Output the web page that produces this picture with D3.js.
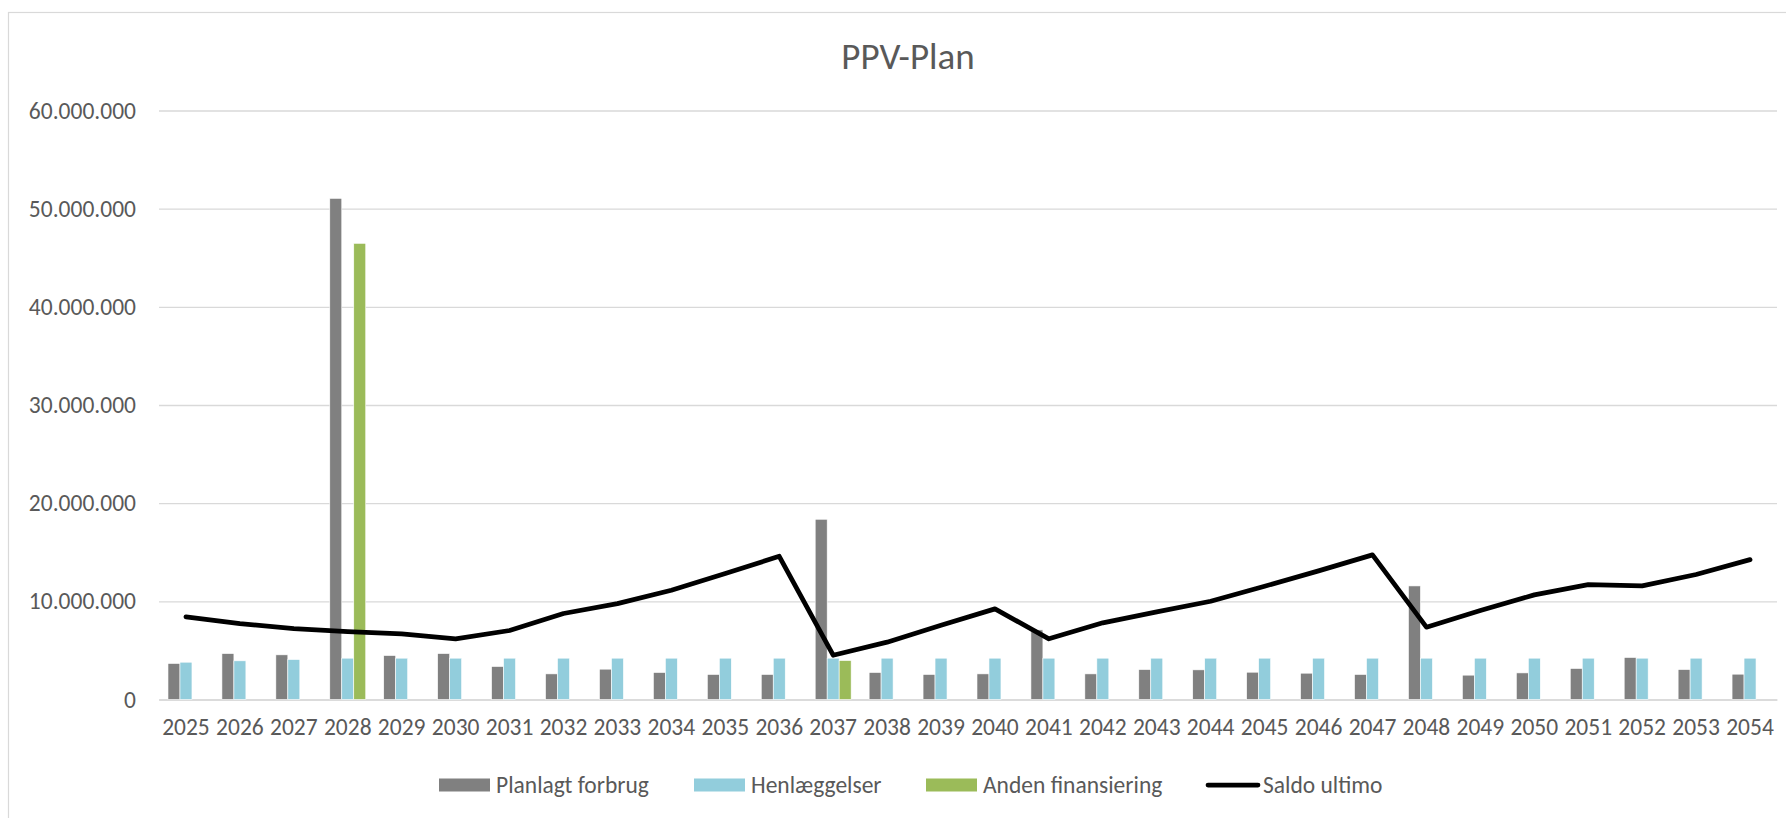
<!doctype html>
<html>

<head>
  <meta charset="utf-8">
  <title>PPV-Plan</title>
  <style>
    html, body {
      margin: 0;
      padding: 0;
      background: #fff;
    }

    svg text {
      font-family: Calibri, Carlito, "Open Sans", sans-serif;
      fill: #595959;
    }
  </style>
</head>

<body>
  <div id="chart"></div>
  <script src="https://d3js.org/d3.v7.min.js"></script>
  <script>
    // data
    const years = ['2025', '2026', '2027', '2028', '2029', '2030', '2031', '2032', '2033', '2034',
      '2035', '2036', '2037', '2038', '2039', '2040', '2041', '2042', '2043', '2044',
      '2045', '2046', '2047', '2048', '2049', '2050', '2051', '2052', '2053', '2054'];

    const planlagt = [3670000, 4680000, 4550000, 51050000, 4480000, 4680000, 3360000, 2610000, 3090000, 2750000,
      2550000, 2550000, 18360000, 2750000, 2550000, 2610000, 7090000, 2610000, 3050000, 3020000,
      2780000, 2680000, 2550000, 11570000, 2480000, 2710000, 3160000, 4280000, 3050000, 2580000];

    const henlaeggelser = [3800000, 3940000, 4070000, 4210000, 4210000, 4210000, 4210000, 4210000, 4210000, 4210000,
      4210000, 4210000, 4210000, 4210000, 4210000, 4210000, 4210000, 4210000, 4210000, 4210000,
      4210000, 4210000, 4210000, 4210000, 4210000, 4210000, 4210000, 4210000, 4210000, 4210000];

    const anden = [null, null, null, 46470000, null, null, null, null, null, null,
      null, null, 3970000, null, null, null, null, null, null, null,
      null, null, null, null, null, null, null, null, null, null];

    const saldo = [8420000, 7740000, 7230000, 6920000, 6690000, 6180000, 7030000, 8760000, 9770000, 11130000,
      12830000, 14590000, 4510000, 5840000, 7570000, 9230000, 6180000, 7810000, 8930000, 10010000,
      11540000, 13100000, 14730000, 7370000, 9060000, 10660000, 11710000, 11570000, 12730000, 14250000];

    const yTicks = [0, 10000000, 20000000, 30000000, 40000000, 50000000, 60000000];

    const seriesNames = ['Planlagt forbrug', 'Henlæggelser', 'Anden finansiering'];
    const seriesColors = ['#808080', '#92CDDC', '#9BBB59'];
    const lineName = 'Saldo ultimo';

    const width = 1786;
    const height = 818;
    const plot = { left: 159, right: 1777, top: 110.5, bottom: 699.5 };
    const fontSize = '23.5px';

    const locale = d3.formatLocale({ decimal: ',', thousands: '.', grouping: [3], currency: ['', ' kr'] });
    const fmt = locale.format(',');

    const svg = d3.select('#chart').append('svg')
      .attr('width', width).attr('height', height);

    // chart area border (continues past the picture)
    svg.append('rect')
      .attr('x', 8.5).attr('y', 12.5)
      .attr('width', 1900).attr('height', 900)
      .attr('fill', '#fff')
      .attr('stroke', '#d9d9d9').attr('stroke-width', 1.2);

    // title
    svg.append('text')
      .attr('x', 908).attr('y', 56)
      .attr('text-anchor', 'middle').attr('dominant-baseline', 'central')
      .style('font-size', '37px')
      .text('PPV-Plan');

    const x = d3.scaleBand().domain(years).range([plot.left, plot.right]).paddingInner(0).paddingOuter(0);
    const y = d3.scaleLinear().domain([0, 60000000]).range([plot.bottom, plot.top]);

    const barW = x.bandwidth() / 4.5;
    const x1 = d3.scaleBand().domain(seriesNames)
      .range([-barW * 1.5, barW * 1.5]).padding(0);

    // gridlines + y axis
    const yAxis = d3.axisLeft(y).tickValues(yTicks).tickFormat(fmt)
      .tickSize(-(plot.right - plot.left)).tickPadding(23);
    const gy = svg.append('g').attr('transform', `translate(${plot.left},0)`).call(yAxis);
    gy.select('.domain').remove();
    gy.selectAll('.tick line').attr('stroke', '#d9d9d9').attr('stroke-width', 1.3);
    gy.selectAll('.tick text').style('font-size', fontSize).attr('fill', '#595959');

    // x axis labels
    const xAxis = d3.axisBottom(x).tickSize(0).tickPadding(19);
    const gx = svg.append('g').attr('transform', `translate(0,${plot.bottom})`).call(xAxis);
    gx.select('.domain').attr('stroke', '#d9d9d9').attr('stroke-width', 1.3);
    gx.selectAll('.tick text').style('font-size', fontSize).attr('fill', '#595959');

    // bars
    const barSeries = [planlagt, henlaeggelser, anden];
    barSeries.forEach((vals, si) => {
      svg.append('g')
        .selectAll('rect')
        .data(vals.map((v, i) => ({ year: years[i], v })).filter(d => d.v != null))
        .join('rect')
        .attr('x', d => x(d.year) + x.bandwidth() / 2 + x1(seriesNames[si]))
        .attr('y', d => y(d.v))
        .attr('width', x1.bandwidth())
        .attr('height', d => y(0) - y(d.v))
        .attr('fill', seriesColors[si])
        .attr('stroke', '#fff')
        .attr('stroke-width', 0.6);
    });

    // saldo line
    const line = d3.line()
      .x((d, i) => x(years[i]) + x.bandwidth() / 2)
      .y(d => y(d));
    svg.append('path')
      .datum(saldo)
      .attr('d', line)
      .attr('fill', 'none')
      .attr('stroke', '#000')
      .attr('stroke-width', 4.75)
      .attr('stroke-linejoin', 'round')
      .attr('stroke-linecap', 'round');

    // legend
    const legendY = 785;
    const legendX = [439, 694, 926, 1205];
    const legend = svg.append('g');
    seriesNames.forEach((name, i) => {
      legend.append('rect')
        .attr('x', legendX[i]).attr('y', legendY - 6.5)
        .attr('width', 51).attr('height', 13)
        .attr('fill', seriesColors[i]);
      legend.append('text')
        .attr('x', legendX[i] + 57).attr('y', legendY)
        .attr('dominant-baseline', 'central')
        .style('font-size', fontSize)
        .text(name);
    });
    legend.append('line')
      .attr('x1', legendX[3] + 3).attr('x2', legendX[3] + 53)
      .attr('y1', legendY).attr('y2', legendY)
      .attr('stroke', '#000').attr('stroke-width', 4.75)
      .attr('stroke-linecap', 'round');
    legend.append('text')
      .attr('x', legendX[3] + 58).attr('y', legendY)
      .attr('dominant-baseline', 'central')
      .style('font-size', fontSize)
      .text(lineName);
  </script>
</body>

</html>
